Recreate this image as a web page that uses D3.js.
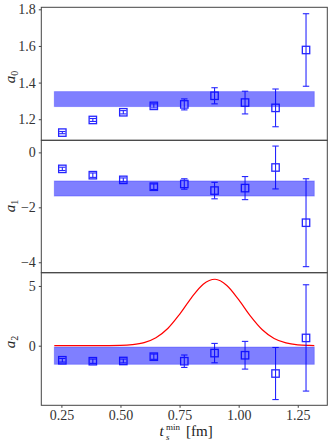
<!DOCTYPE html>
<html><head><meta charset="utf-8">
<script src="https://cdn.jsdelivr.net/npm/d3@7"></script>
<style>body{margin:0;background:#fff}svg{display:block}</style>
</head><body><svg id="c" width="332" height="445"></svg>
<script>
const tsMin = [0.254, 0.383, 0.512, 0.641, 0.770, 0.898, 1.027, 1.156, 1.285];
const a0 = [1.127, 1.196, 1.238, 1.273, 1.281, 1.328, 1.291, 1.262, 1.578];
const a0Err = [0.006, 0.008, 0.009, 0.011, 0.030, 0.044, 0.062, 0.103, 0.198];
const a0Band = [1.269, 1.351];
const a1 = [-0.60, -0.83, -1.00, -1.25, -1.15, -1.39, -1.30, -0.55, -2.56];
const a1Err = [0.06, 0.08, 0.07, 0.10, 0.19, 0.30, 0.42, 0.78, 1.60];
const a1Band = [-1.59, -1.04];
const a2 = [-1.22, -1.30, -1.28, -0.92, -1.30, -0.62, -0.80, -2.33, 0.65];
const a2Err = [0.15, 0.18, 0.16, 0.22, 0.52, 0.81, 1.16, 2.18, 4.45];
const a2Band = [-1.56, -0.11];
const bandRange = [0.22, 1.32];
const curveX = [0.22,0.30,0.40,0.50,0.55,0.60,0.65,0.70,0.75,0.80,0.85,0.90,0.95,1.00,1.05,1.10,1.15,1.20,1.25,1.30,1.32];
const curveY = [0,0,0.001,0.023,0.085,0.26,0.67,1.44,2.63,4.01,5.15,5.56,5.04,3.85,2.47,1.33,0.60,0.23,0.07,0.02,0.01];
const xTicks = [0.25, 0.50, 0.75, 1.00, 1.25];
const a0Ticks = [1.2, 1.4, 1.6, 1.8];
const a1Ticks = [-4, -2, 0];
const a2Ticks = [0, 5];

const svg = d3.select("#c");
const FONT = "Liberation Serif";
const L = 41.3, R = 327.3;
const x = d3.scaleLinear().domain([0.165, 1.375]).range([L, R]);
const panels = [
  {vals:a0, err:a0Err, band:a0Band, dom:[1.085,1.811], top:7.3, bot:140.3, ticks:a0Ticks, fmt:d3.format(".1f"), sub:"0", ly:77},
  {vals:a1, err:a1Err, band:a1Band, dom:[-4.38,0.44], top:140.3, bot:272.7, ticks:a1Ticks, fmt:d=>d<0?"\u2212"+Math.abs(d):""+d, sub:"1", ly:206},
  {vals:a2, err:a2Err, band:a2Band, dom:[-4.99,6.11], top:272.7, bot:405.3, ticks:a2Ticks, fmt:d=>""+d, sub:"2", ly:342, curve:true}
];
const blue = "#0000ff";
panels.forEach(p => {
  const y = d3.scaleLinear().domain(p.dom).range([p.bot, p.top]);
  const g = svg.append("g");
  g.append("rect").attr("x", x(bandRange[0])).attr("width", x(bandRange[1]) - x(bandRange[0]))
    .attr("y", y(p.band[1])).attr("height", y(p.band[0]) - y(p.band[1]))
    .attr("fill", "rgba(0,0,255,0.5)").attr("stroke", "rgba(0,0,255,0.25)").attr("stroke-width", 1);
  if (p.curve) {
    const line = d3.line().x((d,i)=>x(curveX[i])).y((d,i)=>y(curveY[i])).curve(d3.curveMonotoneX);
    g.append("path").attr("d", line(curveX)).attr("fill","none").attr("stroke","#ff0000").attr("stroke-width",1.2);
  }
  const pts = g.append("g").attr("stroke", blue).attr("fill","none").attr("stroke-width",1.1).attr("opacity",0.85);
  tsMin.forEach((t,i) => {
    const cx = x(t), hi = y(p.vals[i] + p.err[i]), lo = y(p.vals[i] - p.err[i]);
    pts.append("line").attr("x1",cx).attr("x2",cx).attr("y1",hi).attr("y2",lo);
    pts.append("line").attr("x1",cx-3.2).attr("x2",cx+3.2).attr("y1",hi).attr("y2",hi);
    pts.append("line").attr("x1",cx-3.2).attr("x2",cx+3.2).attr("y1",lo).attr("y2",lo);
    pts.append("rect").attr("x",cx-3.7).attr("y",y(p.vals[i])-3.7).attr("width",7.4).attr("height",7.4).attr("stroke-width",1.3);
  });
  g.append("rect").attr("x",L).attr("y",p.top).attr("width",R-L).attr("height",p.bot-p.top)
    .attr("fill","none").attr("stroke","#444").attr("stroke-width",1);
  const ax = g.append("g").attr("transform",`translate(${L},0)`)
    .call(d3.axisLeft(y).tickValues(p.ticks).tickFormat(p.fmt).tickSize(2.5).tickPadding(3));
  ax.attr("font-family", FONT).attr("font-size", 14);
  ax.select(".domain").remove();
  ax.selectAll("line").attr("stroke","#444");
  ax.selectAll("text").attr("fill","#333");
  const lab = svg.append("text").attr("transform",`translate(15,${p.ly}) rotate(-90)`)
    .attr("text-anchor","middle").attr("font-size",15).attr("fill","#222").attr("font-family",FONT);
  lab.append("tspan").attr("font-style","italic").text("a");
  lab.append("tspan").attr("font-size",10).attr("dy",3).text(p.sub);
});
const xa = svg.append("g").attr("transform",`translate(0,${405.3})`)
  .call(d3.axisBottom(x).tickValues(xTicks).tickFormat(d3.format(".2f")).tickSize(2.5).tickPadding(2.5));
xa.attr("font-family", FONT).attr("font-size", 14);
xa.select(".domain").remove();
xa.selectAll("line").attr("stroke","#444");
xa.selectAll("text").attr("fill","#333");
const xlab = svg.append("g").attr("fill","#222").attr("font-family",FONT);
xlab.append("text").attr("x",159.5).attr("y",436).attr("font-size",15).attr("font-style","italic").text("t");
xlab.append("text").attr("x",166).attr("y",430).attr("font-size",9).text("min");
xlab.append("text").attr("x",166).attr("y",440).attr("font-size",9).attr("font-style","italic").text("s");
xlab.append("text").attr("x",186).attr("y",436).attr("font-size",15).text("[fm]");
</script></body></html>
